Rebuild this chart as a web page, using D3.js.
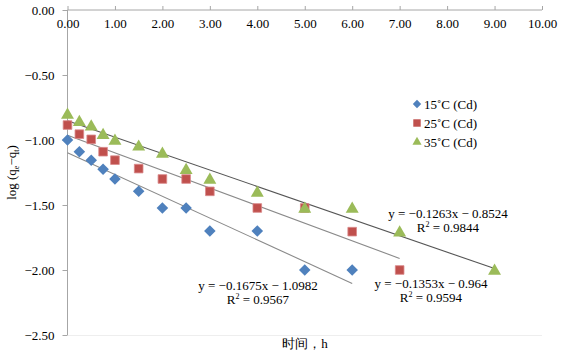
<!DOCTYPE html>
<html><head><meta charset="utf-8">
<script src="https://cdn.jsdelivr.net/npm/d3@7/dist/d3.min.js"></script>
<style>body{margin:0;background:#fff}svg{display:block}text{font-family:"Liberation Serif","Times New Roman",serif;fill:#000}</style>
</head><body><svg id="c" width="562" height="353"></svg>
<script>
const xTicks = [0,1,2,3,4,5,6,7,8,9,10];
const yTicks = [0,-0.5,-1,-1.5,-2,-2.5];
const x15 = [0,0.25,0.5,0.75,1,1.5,2,2.5,3,4,5,6];
const y15 = [-1.00,-1.09,-1.155,-1.225,-1.30,-1.395,-1.523,-1.523,-1.70,-1.70,-2.00,-2.00];
const x25 = [0,0.25,0.5,0.75,1,1.5,2,2.5,3,4,5,6,7];
const y25 = [-0.885,-0.955,-0.995,-1.09,-1.155,-1.22,-1.30,-1.30,-1.395,-1.523,-1.523,-1.705,-2.00];
const x35 = [0,0.25,0.5,0.75,1,1.5,2,2.5,3,4,5,6,7,9];
const y35 = [-0.80,-0.855,-0.89,-0.956,-1.00,-1.045,-1.10,-1.225,-1.30,-1.40,-1.523,-1.523,-1.705,-2.00];
const seriesNames = ["15˚C (Cd)","25˚C (Cd)","35˚C (Cd)"];
const slopes = [-0.1675,-0.1353,-0.1263];
const intercepts = [-1.0982,-0.964,-0.8524];
const r2 = ["0.9567","0.9594","0.9844"];
const eqLabels = ["y = −0.1675x − 1.0982","y = −0.1353x − 0.964","y = −0.1263x − 0.8524"];

const svg = d3.select("#c");
const x = d3.scaleLinear().domain([0,10]).range([67.5,542]);
const y = d3.scaleLinear().domain([0,-2.5]).range([10,335]);
const colors = ["#4F81BD","#C0504D","#9BBB59"];
const lineColors = ["#8a8a8a","#8a8a8a","#555"];
const shapes = [d3.symbolDiamond2, d3.symbolSquare2, d3.symbolTriangle2];

// faint bottom border
svg.append("line").attr("x1",x(0)).attr("x2",x(10)).attr("y1",y(-2.5)+0.5).attr("y2",y(-2.5)+0.5).attr("stroke","#eee");

// y axis
const yAx = svg.append("g").attr("transform",`translate(${x(0)},0)`)
  .call(d3.axisLeft(y).tickValues(yTicks).tickSize(5).tickPadding(8).tickFormat(d=>d3.format(".2f")(d).replace("-","−")));
yAx.selectAll("path,line").attr("stroke","#a6a6a6");
yAx.selectAll("text").attr("font-size",13).attr("font-family","Liberation Serif");
yAx.select(".domain").attr("d",`M0,${y(0)}V${y(-2.5)}`);

// x axis at top, labels below
const xAx = svg.append("g").attr("transform",`translate(0,${y(0)})`)
  .call(d3.axisTop(x).tickValues(xTicks).tickSize(4).tickFormat(d3.format(".2f")));
xAx.selectAll("path,line").attr("stroke","#a6a6a6");
xAx.select(".domain").attr("d",`M${x(0)},0H${x(10)}`);
xAx.selectAll("text").attr("font-size",13).attr("font-family","Liberation Serif").attr("y",18).attr("dy","0");

// trendlines
const xs = [x15,x25,x35], ys = [y15,y25,y35];
xs.forEach((xv,i)=>{
  const xmax = d3.max(xv);
  svg.append("line").attr("x1",x(0)).attr("y1",y(intercepts[i]))
    .attr("x2",x(xmax)).attr("y2",y(slopes[i]*xmax+intercepts[i]))
    .attr("stroke",lineColors[i]).attr("stroke-width",1.1);
});

// points
const sizes = [85,95,120];
xs.forEach((xv,i)=>{
  svg.append("g").selectAll("path").data(xv.map((d,j)=>[d,ys[i][j]])).join("path")
    .attr("transform",d=>`translate(${x(d[0])},${y(d[1])+(i==2?1:0)})`)
    .attr("d",d3.symbol().type(shapes[i]).size(sizes[i]))
    .attr("fill",colors[i]).attr("stroke",i==1?"#d9898a":"none").attr("stroke-width",0.8);
});

// equations
const eqPos = [[258,285],[431,283],[448,213]];
eqPos.forEach((p,i)=>{
  svg.append("text").attr("x",p[0]).attr("y",p[1]+4.5).attr("text-anchor","middle").attr("font-size",13).text(eqLabels[i]);
  const t = svg.append("text").attr("x",p[0]).attr("y",p[1]+19).attr("text-anchor","middle").attr("font-size",13);
  t.append("tspan").text("R");
  t.append("tspan").attr("font-size",8).attr("dy",-5).text("2");
  t.append("tspan").attr("dy",5).text(" = "+r2[i]);
});

// legend
seriesNames.forEach((n,i)=>{
  const ly = 104 + i*19;
  svg.append("path").attr("transform",`translate(417,${ly})`)
    .attr("d",d3.symbol().type(shapes[i]).size([45,70,60][i])).attr("fill",colors[i]);
  svg.append("text").attr("x",424).attr("y",ly+4.5).attr("font-size",13).text(n);
});

// axis titles
svg.append("text").attr("x",305).attr("y",348).attr("text-anchor","middle").attr("font-size",13)
  .attr("font-family","'Noto Sans CJK SC','Liberation Serif',serif").text("时间，h");
const yt = svg.append("text").attr("transform","translate(16,172.5) rotate(-90)").attr("text-anchor","middle").attr("font-size",13);
yt.append("tspan").text("log (q");
yt.append("tspan").attr("font-size",8).attr("dy",3).text("e");
yt.append("tspan").attr("dy",-3).text("−q");
yt.append("tspan").attr("font-size",8).attr("dy",3).text("t");
yt.append("tspan").attr("dy",-3).text(")");
</script></body></html>
